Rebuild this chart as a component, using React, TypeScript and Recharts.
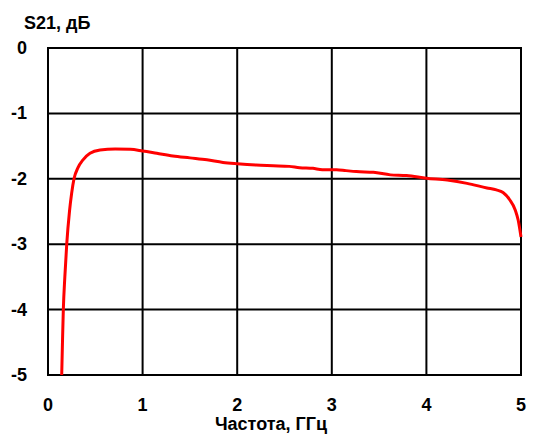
import React from "react";
import { LineChart, Line, XAxis, YAxis, CartesianGrid, ReferenceArea, Label } from "recharts";

const freqGHz = [0.145, 0.153, 0.162, 0.178, 0.198, 0.227, 0.25, 0.275, 0.317, 0.37, 0.444, 0.55, 0.71, 0.87, 1.0, 1.15, 1.32, 1.5, 1.68, 1.85, 2.0, 2.2, 2.38, 2.55, 2.66, 2.8, 2.9, 3.05, 3.15, 3.26, 3.44, 3.62, 3.79, 4.0, 4.22, 4.43, 4.64, 4.74, 4.81, 4.88, 4.94, 4.97, 5.0];
const s21dB = [-5, -4.5, -4, -3.5, -3, -2.5, -2.22, -2, -1.83, -1.71, -1.61, -1.56, -1.545, -1.55, -1.575, -1.61, -1.65, -1.68, -1.71, -1.75, -1.77, -1.79, -1.8, -1.81, -1.83, -1.84, -1.86, -1.86, -1.875, -1.89, -1.9, -1.94, -1.95, -1.99, -2.02, -2.07, -2.14, -2.17, -2.21, -2.32, -2.48, -2.63, -2.89];
const xTicks = [0, 1, 2, 3, 4, 5];
const yTicks = [0, -1, -2, -3, -4, -5];
const xTitle = "Частота, ГГц";
const yTitle = "S21, дБ";

const data = freqGHz.map((f, i) => ({ f, s: s21dB[i] }));

const FONT = "'Liberation Sans', Arial, sans-serif";

const XTick = (props: any) => {
  const { x, payload } = props;
  return (
    <text x={x} y={411} textAnchor="middle" fontFamily={FONT} fontWeight="bold" fontSize={18} fill="#000">
      {payload.value}
    </text>
  );
};

const YTick = (props: any) => {
  const { y, payload } = props;
  return (
    <text x={27} y={y + 6} textAnchor="end" fontFamily={FONT} fontWeight="bold" fontSize={18} fill="#000">
      {payload.value}
    </text>
  );
};

export default function App() {
  return (
    <div style={{ position: "absolute", left: 0, top: 0, width: 540, height: 443, background: "#fff" }}>
      <LineChart width={540} height={443} data={data} margin={{ top: 48, right: 19, bottom: 0, left: 0 }}>
        <CartesianGrid stroke="#000" strokeWidth={2} />
        <XAxis
          type="number"
          dataKey="f"
          domain={[0, 5]}
          ticks={xTicks}
          height={68}
          axisLine={false}
          tickLine={false}
          tick={<XTick />}
          interval={0}
        >
          <Label
            content={() => (
              <text x={271} y={430} textAnchor="middle" fontFamily={FONT} fontWeight="bold" fontSize={18} fill="#000">
                {xTitle}
              </text>
            )}
          />
        </XAxis>
        <YAxis
          type="number"
          domain={[-5, 0]}
          ticks={yTicks}
          width={48}
          axisLine={false}
          tickLine={false}
          tick={<YTick />}
          interval={0}
        >
          <Label
            content={() => (
              <text x={24} y={29} textAnchor="start" fontFamily={FONT} fontWeight="bold" fontSize={18} fill="#000">
                {yTitle}
              </text>
            )}
          />
        </YAxis>
        <ReferenceArea x1={0} x2={5} y1={-5} y2={0} fill="none" stroke="#000" strokeWidth={2} ifOverflow="visible" />
        <Line
          type="monotone"
          dataKey="s"
          stroke="#ff0000"
          strokeWidth={3}
          dot={false}
          isAnimationActive={false}
        />
      </LineChart>
    </div>
  );
}
